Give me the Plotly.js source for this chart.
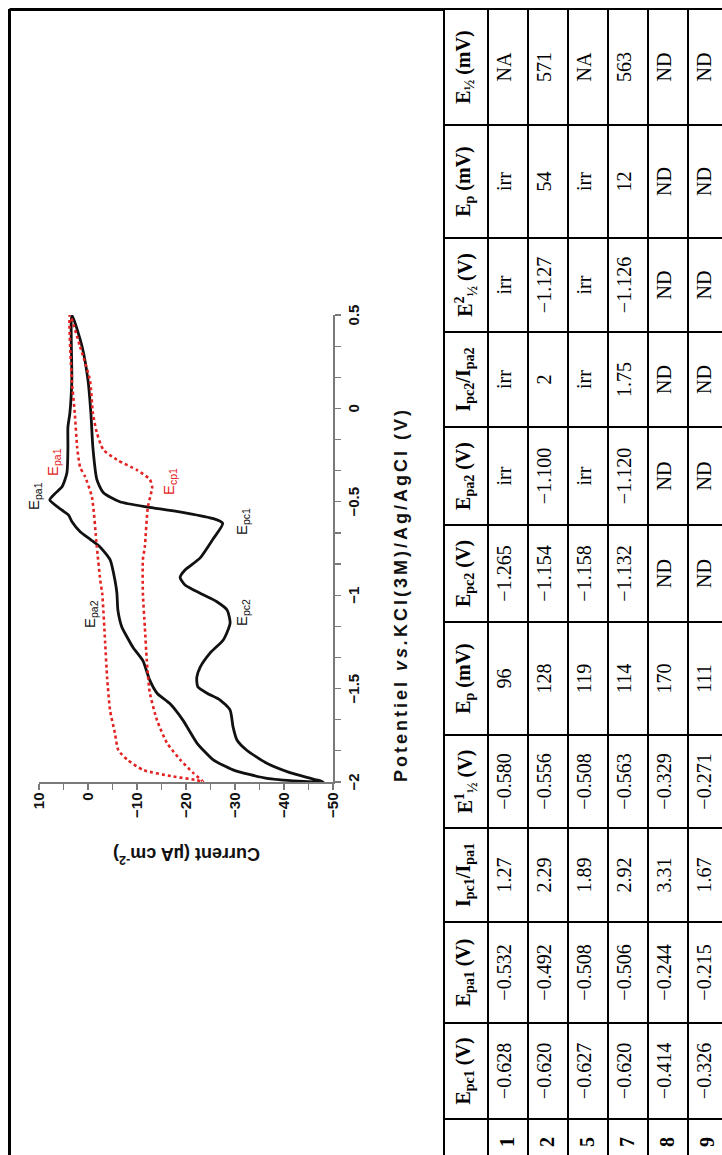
<!DOCTYPE html>
<html>
<head>
<meta charset="utf-8">
<script src="https://cdn.plot.ly/plotly-3.0.1.min.js"></script>
<style>
html, body { margin:0; padding:0; overflow:hidden; background:#fff; width:722px; height:1155px; }
#wrap { position:absolute; left:0; top:0; width:1200px; height:740px; transform-origin:0 0; }
</style>
</head>
<body>
<div id="wrap"><div id="plot"></div></div>
<script>
// ---- Cyclic voltammogram data (Potential in V, Current in µA cm-2) ----
const blackPotential = [0.5, 0.33, 0.15, -0.03, -0.21, -0.38, -0.45, -0.50, -0.53, -0.56, -0.59, -0.615,
  -0.70, -0.80, -0.865, -0.905, -0.945, -0.99, -1.035, -1.08, -1.15, -1.24, -1.31, -1.385, -1.44, -1.49,
  -1.525, -1.56, -1.615, -1.705, -1.775, -1.83, -1.90, -1.95, -2.0,
  -1.98, -1.935, -1.88, -1.79, -1.67, -1.58, -1.525, -1.455, -1.35, -1.28, -1.225, -1.17, -1.08, -0.99,
  -0.92, -0.81, -0.74, -0.70, -0.66, -0.605, -0.57, -0.545, -0.49, -0.455, -0.42, -0.345, -0.21, -0.10,
  -0.025, 0.15, 0.5];
const blackCurrent = [3.3, 1.2, 0.0, -0.6, -1.0, -1.8, -3.1, -6.5, -12.6, -20.1, -25.6, -27.5,
  -25.5, -22.9, -19.8, -18.8, -19.8, -22.9, -26.3, -28.4, -29.0, -27.6, -24.9, -22.9, -22.2, -22.4,
  -24.3, -26.9, -29.0, -29.6, -30.4, -32.4, -36.5, -41.2, -48.0,
  -36.5, -29.6, -25.5, -22.2, -19.4, -16.7, -14.1, -12.6, -11.2, -9.2, -8.0, -6.9, -6.1, -5.9,
  -5.5, -4.5, -2.4, -0.4, 1.6, 3.3, 4.0, 5.3, 7.8, 6.7, 5.3, 4.3, 4.1, 4.1,
  3.7, 3.3, 3.3];
const redPotential = [0.5, 0.33, 0.15, -0.025, -0.13, -0.22, -0.275, -0.33, -0.38, -0.42, -0.53, -0.74,
  -0.81, -0.99, -1.17, -1.35, -1.52, -1.67, -1.79, -1.88, -1.95, -2.0,
  -1.99, -1.97, -1.935, -1.88, -1.83, -1.74, -1.615, -1.44, -1.255, -0.99, -0.92, -0.74, -0.475,
  -0.365, -0.315, -0.21, -0.025, 0.15, 0.5];
const redCurrent = [3.7, 1.6, -0.4, -1.0, -1.8, -3.1, -5.9, -10.0, -12.6, -13.1, -12.2, -11.6,
  -11.2, -11.2, -11.6, -12.0, -12.6, -14.1, -16.1, -18.8, -21.4, -23.5,
  -22.2, -17.3, -11.2, -8.0, -6.2, -5.5, -4.5, -3.9, -3.5, -2.9, -2.5, -1.8, -0.8,
  0.6, 1.6, 2.2, 2.7, 3.3, 3.7];

// ---- Peak labels ----
const peakLabels = ['E<sub>pa1</sub>', 'E<sub>pa1</sub>', 'E<sub>cp1</sub>', 'E<sub>pc1</sub>', 'E<sub>pc2</sub>', 'E<sub>pa2</sub>'];
const peakLabelV = [-0.469, -0.287, -0.389, -0.603, -1.09, -1.10];
const peakLabelI = [9.9, 7.1, -16.7, -31.6, -31.6, -0.6];
const peakLabelShift = [5, 0, 0, 0, 0, 0];
const peakLabelColor = ['#111', '#e32222', '#e32222', '#111', '#111', '#111'];

// ---- Table data ----
const tableHeaders = ['', '<b>E<sub>pc1</sub> (V)</b>', '<b>E<sub>pa1</sub> (V)</b>', '<b>I<sub>pc1</sub>/I<sub>pa1</sub></b>',
  '<b>E<sup>1</sup><sub>½</sub> (V)</b>', '<b>E<sub>p</sub> (mV)</b>', '<b>E<sub>pc2</sub> (V)</b>',
  '<b>E<sub>pa2</sub> (V)</b>', '<b>I<sub>pc2</sub>/I<sub>pa2</sub></b>', '<b>E<sup>2</sup><sub>½</sub> (V)</b>',
  '<b>E<sub>p</sub> (mV)</b>', '<b>E<sub>½</sub> (mV)</b>'];
const compounds = ['<b>1</b>', '<b>2</b>', '<b>5</b>', '<b>7</b>', '<b>8</b>', '<b>9</b>'];
const Epc1 = ['−0.628', '−0.620', '−0.627', '−0.620', '−0.414', '−0.326'];
const Epa1 = ['−0.532', '−0.492', '−0.508', '−0.506', '−0.244', '−0.215'];
const ratio1 = ['1.27', '2.29', '1.89', '2.92', '3.31', '1.67'];
const E1half = ['−0.580', '−0.556', '−0.508', '−0.563', '−0.329', '−0.271'];
const dEp1 = ['96', '128', '119', '114', '170', '111'];
const Epc2 = ['−1.265', '−1.154', '−1.158', '−1.132', 'ND', 'ND'];
const Epa2 = ['irr', '−1.100', 'irr', '−1.120', 'ND', 'ND'];
const ratio2 = ['irr', '2', 'irr', '1.75', 'ND', 'ND'];
const E2half = ['irr', '−1.127', 'irr', '−1.126', 'ND', 'ND'];
const dEp2 = ['irr', '54', 'irr', '12', 'ND', 'ND'];
const Ehalf = ['NA', '571', 'NA', '563', 'ND', 'ND'];

// ---- Layout geometry (pixels in the un-rotated 1200x740 canvas) ----
const W = 1200, H = 740;
const px = u => u / W;
const py = v => 1 - v / H;

const sans = 'Liberation Sans, Arial, sans-serif';
const serif = 'Liberation Serif, Times New Roman, serif';

const traces = [
  { type: 'scatter', mode: 'lines', x: blackPotential, y: blackCurrent, name: 'black',
    line: { color: '#111', width: 2.8, shape: 'spline', smoothing: 0.6 }, hoverinfo: 'skip' },
  { type: 'scatter', mode: 'lines', x: redPotential, y: redCurrent, name: 'red',
    line: { color: '#e32222', width: 2.6, dash: 'dot', shape: 'spline', smoothing: 0.6 }, hoverinfo: 'skip' },
  { type: 'table', domain: { x: [px(30), px(1186)], y: [0, py(444)] },
    columnwidth: [46, 96, 101, 94, 93, 113, 97, 98, 95, 94, 113, 116],
    header: { values: tableHeaders, height: 44, align: 'center',
      line: { color: '#000', width: 2.5 }, fill: { color: '#fff' },
      font: { family: serif, size: 20, color: '#000' } },
    cells: { values: [compounds, Epc1, Epa1, ratio1, E1half, dEp1, Epc2, Epa2, ratio2, E2half, dEp2, Ehalf],
      height: 40, align: 'center',
      line: { color: '#000', width: 2.5 }, fill: { color: '#fff' },
      font: { family: serif, size: 20, color: '#000' } } }
];

const axisCommon = {
  showgrid: false, zeroline: false, showline: true, linecolor: '#7a7a7a', linewidth: 1.5,
  ticks: 'outside', ticklen: 6, tickwidth: 1.2, tickcolor: '#7a7a7a',
  tickfont: { family: sans, size: 15, color: '#111', weight: 'bold' }
};

const annotations = peakLabels.map((t, i) => ({
  x: peakLabelV[i], y: peakLabelI[i], xref: 'x', yref: 'y', text: t, showarrow: false,
  yshift: peakLabelShift[i],
  font: { family: sans, size: 15, color: peakLabelColor[i] }, xanchor: 'center', yanchor: 'middle'
}));
annotations.push({
  xref: 'paper', yref: 'paper', x: px(600), y: py(401), showarrow: false,
  text: '<b><span style="letter-spacing:3px">Potentiel <i>vs.</i>KCl(3M)/Ag/AgCl (V)</span></b>',
  font: { family: sans, size: 18, color: '#111' }, xanchor: 'center', yanchor: 'middle'
});
annotations.push({
  xref: 'paper', yref: 'paper', x: px(340), y: py(187), showarrow: false, textangle: -90,
  text: '<b>Current (µA cm<sup>-2</sup>)</b>',
  font: { family: sans, size: 18, color: '#111' }, xanchor: 'center', yanchor: 'middle'
});

const layout = {
  width: W, height: H, autosize: false, showlegend: false,
  margin: { l: 0, r: 0, t: 0, b: 0 },
  paper_bgcolor: '#fff', plot_bgcolor: 'rgba(0,0,0,0)',
  xaxis: Object.assign({}, axisCommon, {
    domain: [px(413), px(880)], range: [-2, 0.5], tick0: -2, dtick: 0.5,
    minor: { dtick: 0.5 / 3, tick0: -2, ticks: 'outside', ticklen: 6, tickcolor: '#7a7a7a', tickwidth: 1.2 }
  }),
  yaxis: Object.assign({}, axisCommon, {
    domain: [py(333), py(39)], range: [-50, 10], tick0: 0, dtick: 10,
    minor: { dtick: 5, ticks: 'outside', ticklen: 6, tickcolor: '#7a7a7a', tickwidth: 1.2 }
  }),
  annotations: annotations,
  shapes: [
    { type: 'line', xref: 'paper', yref: 'paper', x0: 0, x1: px(1186), y0: py(9.5), y1: py(9.5),
      line: { color: '#000', width: 3 } },
    { type: 'line', xref: 'paper', yref: 'paper', x0: px(1185.5), x1: px(1185.5), y0: py(9.5), y1: py(444),
      line: { color: '#000', width: 3 } }
  ]
};

// Draw un-rotated (so text measuring is correct), then turn the page by -90 degrees.
Plotly.newPlot('plot', traces, layout, { displayModeBar: false, staticPlot: true }).then(function () {
  document.getElementById('wrap').style.transform = 'translate(0px, 1195px) rotate(-90deg)';
});
</script>
</body>
</html>
